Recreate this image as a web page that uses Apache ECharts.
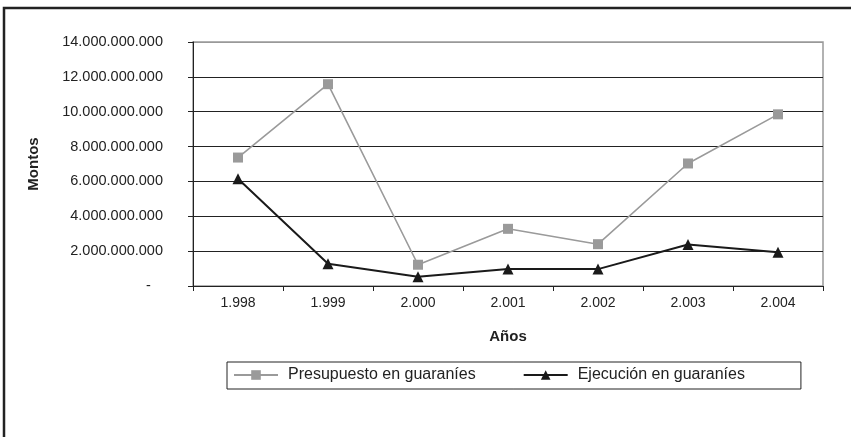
<!DOCTYPE html>
<html>
<head>
<meta charset="utf-8">
<script src="https://cdn.jsdelivr.net/npm/echarts@6/dist/echarts.min.js"></script>
<style>html,body{margin:0;padding:0;background:#fff;}#c{width:851px;height:437px;}</style>
</head>
<body>
<div id="c"></div>
<script>
const years = ['1.998', '1.999', '2.000', '2.001', '2.002', '2.003', '2.004'];
const presupuesto = [7.37e9, 11.58e9, 1.22e9, 3.28e9, 2.4e9, 7.03e9, 9.85e9];
const ejecucion = [6.15e9, 1.28e9, 0.53e9, 0.97e9, 0.97e9, 2.38e9, 1.94e9];
const seriesNames = ['Presupuesto en guaraníes', 'Ejecución en guaraníes'];

function fmt(v) {
  if (v === 0) return '-   ';
  return String(Math.round(v)).replace(/\B(?=(\d{3})+(?!\d))/g, '.');
}

const chart = echarts.init(document.getElementById('c'), null, {renderer: 'canvas'});
const font = 'Liberation Sans, Arial, sans-serif';
chart.setOption({
  animation: false,
  textStyle: {fontFamily: font},
  graphic: [{
    type: 'rect', shape: {x: 4, y: 8, width: 1000, height: 600},
    style: {fill: 'none', stroke: '#222', lineWidth: 2.5}, silent: true, z: 100
  }],
  grid: {left: 193, right: 28, top: 42, bottom: 151, show: true, borderColor: '#999', borderWidth: 1.5},
  legend: {
    left: 227, top: 362,
    padding: [5, 56, 6, 6],
    borderColor: '#222', borderWidth: 1,
    itemWidth: 44, itemHeight: 12, itemGap: 47,
    textStyle: {fontSize: 16, color: '#222', fontFamily: font, padding: [0, 0, 0, 5]},
    data: seriesNames
  },
  xAxis: {
    type: 'category', data: years, boundaryGap: true,
    name: 'Años', nameLocation: 'middle', nameGap: 43,
    nameTextStyle: {fontSize: 15, fontWeight: 'bold', color: '#222'},
    axisLine: {lineStyle: {color: '#222', width: 1}},
    axisTick: {show: true, length: 5, lineStyle: {color: '#222'}},
    axisLabel: {fontSize: 14, color: '#222', margin: 10}
  },
  yAxis: {
    type: 'value', min: 0, max: 14e9, interval: 2e9,
    name: 'Montos', nameLocation: 'middle', nameGap: 152, nameRotate: 90,
    nameTextStyle: {fontSize: 15, fontWeight: 'bold', color: '#222'},
    axisLine: {show: true, lineStyle: {color: '#222', width: 1}},
    axisTick: {show: true, length: 5, lineStyle: {color: '#222'}},
    axisLabel: {fontSize: 14.5, color: '#222', margin: 30, formatter: fmt},
    splitLine: {show: true, lineStyle: {color: ['#222', '#222', '#222', '#222', '#222', '#222', '#222', '#999'], width: 1}}
  },
  series: [{
    name: seriesNames[0], type: 'line', data: presupuesto,
    symbol: 'rect', symbolSize: 10,
    lineStyle: {color: '#9a9a9a', width: 1.6},
    itemStyle: {color: '#9a9a9a'}
  }, {
    name: seriesNames[1], type: 'line', data: ejecucion,
    symbol: 'triangle', symbolSize: 11,
    lineStyle: {color: '#1a1a1a', width: 2},
    itemStyle: {color: '#1a1a1a'}
  }]
});
</script>
</body>
</html>
